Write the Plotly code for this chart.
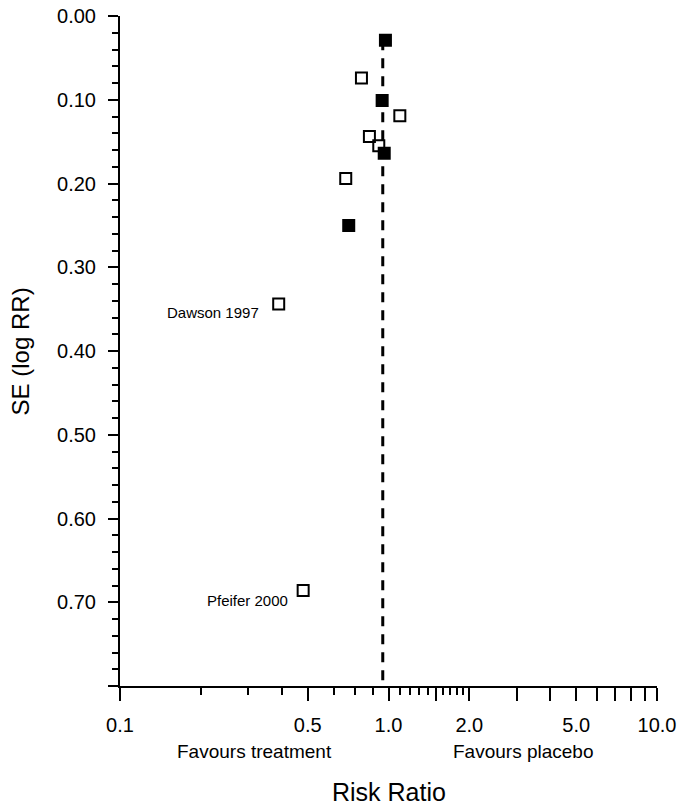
import math
import plotly.graph_objects as go

# ---- data ----
open_rr = [0.793, 1.102, 0.849, 0.920, 0.693, 0.390, 0.481]
open_se = [0.074, 0.119, 0.144, 0.155, 0.194, 0.344, 0.686]
filled_rr = [0.974, 0.947, 0.964, 0.711]
filled_se = [0.029, 0.101, 0.164, 0.250]
pooled_rr = 0.952
se_axis_max = 0.80

label_names = ["Dawson 1997", "Pfeifer 2000"]
label_rr = [0.390, 0.481]
label_se = [0.344, 0.686]

y_tick_vals = [0.0, 0.1, 0.2, 0.3, 0.4, 0.5, 0.6, 0.7, 0.8]
y_tick_text = ["0.00", "0.10", "0.20", "0.30", "0.40", "0.50", "0.60", "0.70", ""]
x_tick_vals = [0.1, 0.5, 1.0, 1.5, 2.0, 3, 4, 5.0, 6, 7, 8, 9, 10.0]
x_tick_text = ["0.1", "0.5", "1.0", "", "2.0", "", "", "5.0", "", "", "", "", "10.0"]
x_minor_vals = [0.2, 0.3, 0.4, 0.625, 0.75, 0.875, 1.1, 1.2, 1.3, 1.4, 1.6, 1.7, 1.8, 1.9]

FONT = "Liberation Sans, Arial, sans-serif"

fig = go.Figure()

# pooled estimate line
fig.add_trace(go.Scatter(
    x=[pooled_rr, pooled_rr],
    y=[min(filled_se + open_se), se_axis_max],
    mode="lines",
    line=dict(color="black", width=3, dash="10px,8px"),
    hoverinfo="skip", showlegend=False, cliponaxis=False,
))

fig.add_trace(go.Scatter(
    x=open_rr, y=open_se, mode="markers",
    marker=dict(symbol="square-open", size=11, color="black",
                line=dict(color="black", width=2)),
    showlegend=False, cliponaxis=False,
))
fig.add_trace(go.Scatter(
    x=filled_rr, y=filled_se, mode="markers",
    marker=dict(symbol="square", size=11, color="black",
                line=dict(color="black", width=2)),
    showlegend=False, cliponaxis=False,
))

label_offsets = {"Dawson 1997": (-18, -8), "Pfeifer 2000": (-13, -10)}
for name, rr, se in zip(label_names, label_rr, label_se):
    dx, dy = label_offsets[name]
    fig.add_annotation(
        x=math.log10(rr), y=se, xref="x", yref="y", text=name, showarrow=False,
        xanchor="right", yanchor="middle", xshift=dx, yshift=dy,
        font=dict(family=FONT, size=15, color="black"),
    )

# side labels and titles
fig.add_annotation(x=-0.5, y=-0.098, xref="x", yref="paper", text="Favours treatment",
                   showarrow=False, xanchor="center", yanchor="middle",
                   font=dict(family=FONT, size=19, color="black"))
fig.add_annotation(x=0.5, y=-0.098, xref="x", yref="paper", text="Favours placebo",
                   showarrow=False, xanchor="center", yanchor="middle",
                   font=dict(family=FONT, size=19, color="black"))
fig.add_annotation(x=0.5, y=-0.1577, xref="paper", yref="paper", text="Risk Ratio",
                   showarrow=False, xanchor="center", yanchor="middle",
                   font=dict(family=FONT, size=25, color="black"))
fig.add_annotation(x=-0.1855, y=0.5, xref="paper", yref="paper", text="SE (log RR)",
                   showarrow=False, xanchor="center", yanchor="middle", textangle=-90,
                   font=dict(family=FONT, size=24, color="black"))

fig.update_layout(
    width=677, height=799,
    margin=dict(l=112, r=28, t=8, b=121, autoexpand=False),
    paper_bgcolor="white", plot_bgcolor="white",
    font=dict(family=FONT, color="black"),
    showlegend=False,
)
fig.update_xaxes(
    type="log", range=[-1, 1], automargin=False,
    showgrid=False, zeroline=False,
    showline=True, linecolor="black", linewidth=2,
    ticks="outside", ticklen=13, tickwidth=2, tickcolor="black",
    tickmode="array", tickvals=x_tick_vals, ticktext=x_tick_text,
    tickfont=dict(family=FONT, size=20, color="black"),
    ticklabelstandoff=7, ticklabeloverflow="allow",
    minor=dict(tickmode="array", tickvals=x_minor_vals, ticks="outside",
               ticklen=7, tickwidth=2, tickcolor="black", showgrid=False),
)
fig.update_yaxes(
    range=[se_axis_max, 0], automargin=False,
    showgrid=False, zeroline=False,
    showline=True, linecolor="black", linewidth=2,
    ticks="outside", ticklen=10, tickwidth=2, tickcolor="black",
    tickmode="array", tickvals=y_tick_vals, ticktext=y_tick_text,
    tickfont=dict(family=FONT, size=20, color="black"),
    ticklabelstandoff=8, ticklabeloverflow="allow",
    minor=dict(dtick=0.02, tick0=0, ticks="outside",
               ticklen=6, tickwidth=2, tickcolor="black", showgrid=False),
)

fig.write_html("out.html")
